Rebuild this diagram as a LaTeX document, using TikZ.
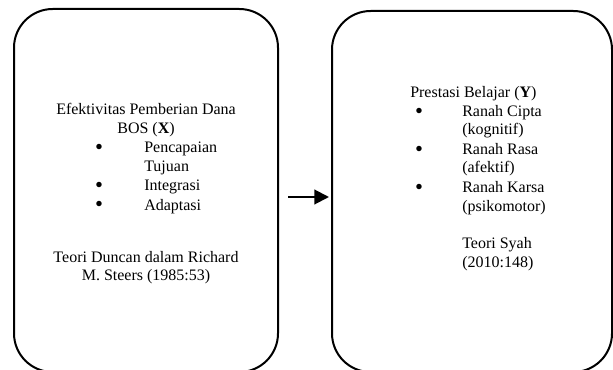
\documentclass[tikz,border=0pt]{standalone}
\usepackage{fontspec}
\setmainfont{Liberation Serif}
\usetikzlibrary{arrows.meta,positioning}

\begin{document}
\begin{tikzpicture}[x=0.75pt, y=-0.75pt,
    panel/.style={draw, line width=1.5pt, rounded corners=29pt, inner sep=0pt},
    txt/.style={anchor=base, inner sep=0pt, font=\fontsize{12}{14.25}\selectfont},
    item/.style={txt, anchor=base west},
    dot/.style={txt, yshift=-1pt, font=\fontsize{17}{17}\selectfont},
    link/.style={line width=1.5pt, -{Triangle[length=11pt, width=11pt]}}]
    \useasboundingbox (0,0) rectangle (613,370);

    % Panels
    \node[panel, minimum width=198pt, minimum height=272.25pt] (efek) at (146,190.5) {};
    \node[panel, minimum width=210pt, minimum height=270.75pt] (pres) at (472,191.5) {};

    % Arrow between panels
    \coordinate (mid) at (0,197);
    \draw[link] ([xshift=6.75pt]efek.east |- mid) -- ([xshift=-1.5pt]pres.west |- mid);

    % Left panel: variable X
    \node[txt] (xtitle) at (146,115) {Efektivitas Pemberian Dana};
    \node[txt] (xname) at (146,134) {BOS (\textbf{X})};
    \node[dot] (xb1) at (99,153) {\textbullet};
    \node[item] (xi1) at (144,153) {Pencapaian};
    \node[item] (xi1b) at (144,172) {Tujuan};
    \node[dot] (xb2) at (99,191) {\textbullet};
    \node[item] (xi2) at (144,191) {Integrasi};
    \node[dot] (xb3) at (99,210) {\textbullet};
    \node[item] (xi3) at (144,210) {Adaptasi};
    \node[txt] (xsrc) at (146,262) {Teori Duncan dalam Richard};
    \node[txt] (xsrcb) at (146,280) {M. Steers (1985:53)};

    % Right panel: variable Y
    \node[item] (ytitle) at (410,98) {Prestasi Belajar (\textbf{Y})};
    \node[dot] (yb1) at (419,117) {\textbullet};
    \node[item] (yi1) at (462,117) {Ranah Cipta};
    \node[item] (yi1b) at (462,135) {(kognitif)};
    \node[dot] (yb2) at (419,155) {\textbullet};
    \node[item] (yi2) at (462,155) {Ranah Rasa};
    \node[item] (yi2b) at (462,173) {(afektif)};
    \node[dot] (yb3) at (419,193) {\textbullet};
    \node[item] (yi3) at (462,193) {Ranah Karsa};
    \node[item] (yi3b) at (462,212) {(psikomotor)};
    \node[item] (ysrc) at (462,248) {Teori Syah};
    \node[item] (ysrcb) at (462,267) {(2010:148)};
\end{tikzpicture}
\end{document}
